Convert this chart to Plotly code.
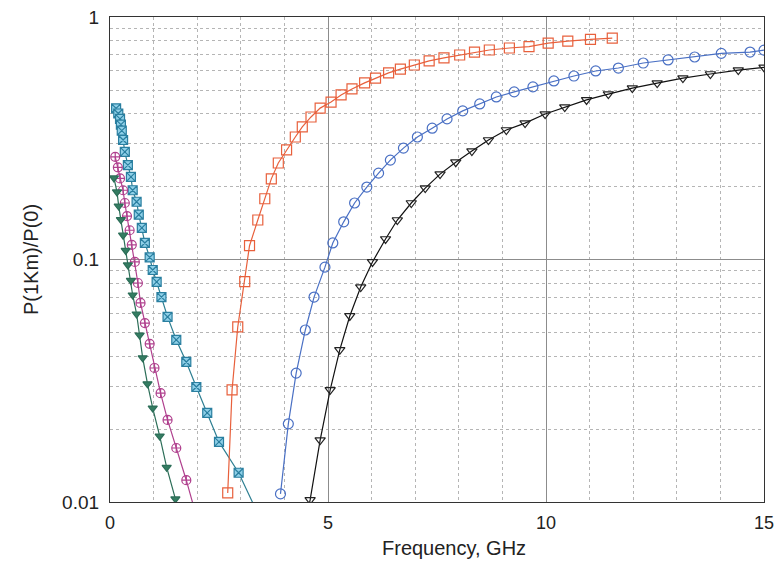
import plotly.graph_objects as go

# ---- data ----
red_x = [2.70, 2.80, 2.93, 3.09, 3.20, 3.39, 3.55, 3.70, 3.86, 4.05, 4.25, 4.41, 4.61, 4.82, 5.07,
         5.30, 5.55, 5.84, 6.09, 6.39, 6.66, 6.98, 7.32, 7.66, 8.02, 8.36, 8.70, 9.16, 9.61, 10.05,
         10.50, 11.02, 11.52]
red_y = [0.0109, 0.029, 0.0527, 0.081, 0.114, 0.1455, 0.178, 0.215, 0.250, 0.283, 0.320, 0.352,
         0.387, 0.421, 0.446, 0.477, 0.505, 0.535, 0.560, 0.588, 0.610, 0.634, 0.659, 0.678, 0.697,
         0.717, 0.731, 0.745, 0.755, 0.780, 0.796, 0.808, 0.819]

blue_x = [3.91, 4.09, 4.27, 4.48, 4.68, 4.93, 5.11, 5.36, 5.61, 5.89, 6.16, 6.43, 6.73, 7.05, 7.39,
          7.73, 8.09, 8.48, 8.86, 9.27, 9.70, 10.18, 10.64, 11.14, 11.66, 12.23, 12.80, 13.41,
          14.02, 14.68, 15.0]
blue_y = [0.0108, 0.021, 0.034, 0.0512, 0.070, 0.093, 0.117, 0.143, 0.171, 0.199, 0.227, 0.257,
          0.288, 0.320, 0.348, 0.380, 0.410, 0.438, 0.468, 0.491, 0.515, 0.545, 0.571, 0.599,
          0.616, 0.646, 0.665, 0.684, 0.708, 0.717, 0.73]

black_x = [4.50, 4.59, 4.82, 5.05, 5.27, 5.50, 5.75, 6.02, 6.32, 6.59, 6.91, 7.23, 7.57, 7.93, 8.30,
           8.68, 9.09, 9.52, 9.98, 10.43, 10.93, 11.43, 11.98, 12.55, 13.14, 13.77, 14.41, 15.0]
black_y = [0.0085, 0.0102, 0.018, 0.029, 0.0424, 0.0585, 0.077, 0.0977, 0.1215, 0.1455, 0.171,
           0.197, 0.225, 0.252, 0.280, 0.311, 0.342, 0.365, 0.398, 0.425, 0.455, 0.481, 0.509,
           0.534, 0.560, 0.582, 0.604, 0.62]

cyan_x = [0.14, 0.19, 0.23, 0.25, 0.27, 0.30, 0.34, 0.41, 0.48, 0.52, 0.61, 0.66, 0.73, 0.80, 0.91,
          0.98, 1.07, 1.18, 1.32, 1.52, 1.75, 1.98, 2.23, 2.50, 2.95, 3.45]
cyan_y = [0.42, 0.40, 0.38, 0.36, 0.34, 0.311, 0.278, 0.245, 0.219, 0.193, 0.173, 0.153, 0.135,
          0.117, 0.102, 0.0905, 0.0808, 0.070, 0.058, 0.0466, 0.0378, 0.0298, 0.0233, 0.0177,
          0.0132, 0.0085]

mag_x = [0.12, 0.18, 0.23, 0.30, 0.34, 0.39, 0.45, 0.50, 0.57, 0.64, 0.70, 0.80, 0.91, 1.02, 1.16,
         1.32, 1.52, 1.75, 2.00]
mag_y = [0.265, 0.240, 0.216, 0.193, 0.171, 0.151, 0.132, 0.115, 0.0977, 0.080, 0.0662, 0.0547,
         0.0449, 0.0357, 0.0281, 0.0218, 0.0167, 0.0123, 0.0085]

green_x = [0.09, 0.16, 0.20, 0.25, 0.30, 0.36, 0.41, 0.48, 0.52, 0.61, 0.68, 0.75, 0.86, 0.98, 1.14,
           1.30, 1.50, 1.62]
green_y = [0.217, 0.190, 0.166, 0.146, 0.126, 0.109, 0.095, 0.082, 0.0714, 0.0596, 0.0488, 0.0393,
           0.0307, 0.0244, 0.0187, 0.0139, 0.0103, 0.0085]

x_ticks = [0, 5, 10, 15]
y_ticks = [0.01, 0.1, 1]
y_tick_text = ["0.01", "0.1", "1"]
x_title = "Frequency, GHz"
y_title = "P(1Km)/P(0)"

fig = go.Figure()

def add(x, y, line_color, symbol, mcolor, mfill, size, lw=1.2):
    fig.add_trace(go.Scatter(
        x=x, y=y, mode="lines+markers",
        line=dict(color=line_color, width=lw),
        marker=dict(symbol=symbol, size=size, color=mfill,
                    line=dict(color=mcolor, width=1.2)),
        cliponaxis=True, showlegend=False))

add(cyan_x, cyan_y, "#2e7f92", "square-x", "#2a7fa0", "#8fd0e8", 9)
add(mag_x, mag_y, "#b0408e", "circle-cross-open", "#b0408e", "#b0408e", 9)
add(green_x, green_y, "#2c6e58", "triangle-down", "#2c6e58", "#347d62", 8)
add(red_x, red_y, "#e8603c", "square-open", "#e8603c", "#e8603c", 10)
add(blue_x, blue_y, "#4a70c4", "circle-open", "#4a70c4", "#4a70c4", 10)
add(black_x, black_y, "#111111", "triangle-down-open", "#222222", "#222222", 9)

font = "Liberation Sans, Arial, sans-serif"
# the page body has an 8px margin, so the figure is offset by 8px in the window
fig.update_layout(
    width=774, height=551,
    margin=dict(l=102, r=18, t=9, b=57),
    paper_bgcolor="white", plot_bgcolor="white",
    font=dict(family=font, color="#222", size=14),
    annotations=[dict(text=x_title, xref="paper", yref="paper", x=0.526, y=0,
                      yshift=-46, xanchor="center", yanchor="middle", showarrow=False,
                      font=dict(size=20, family=font, color="#222"))],
)
fig.update_xaxes(
    range=[0, 15], tickvals=x_ticks, ticktext=[str(v) for v in x_ticks],
    showgrid=True, gridcolor="#8c8c8c", gridwidth=1,
    minor=dict(dtick=1, showgrid=True, gridcolor="#b5b5b5", griddash="dot", gridwidth=1),
    showline=True, linecolor="#333", linewidth=1.2, mirror=True,
    ticks="", zeroline=False, automargin=False, ticklabelstandoff=4,
    ticklabeloverflow="allow",
    tickfont=dict(size=18, family=font, color="#222"),
)
fig.update_yaxes(
    type="log", range=[-2, 0], tickvals=y_ticks, ticktext=y_tick_text,
    showgrid=True, gridcolor="#8c8c8c", gridwidth=1,
    minor=dict(dtick="D1", showgrid=True, gridcolor="#b5b5b5", griddash="dot", gridwidth=1),
    showline=True, linecolor="#333", linewidth=1.2, mirror=True,
    ticks="", zeroline=False, automargin=False, ticklabelstandoff=6,
    ticklabeloverflow="allow",
    tickfont=dict(size=19, family=font, color="#222"),
    title=dict(text=y_title, font=dict(size=20, family=font, color="#222"), standoff=18),
)

fig.write_html("out.html")
